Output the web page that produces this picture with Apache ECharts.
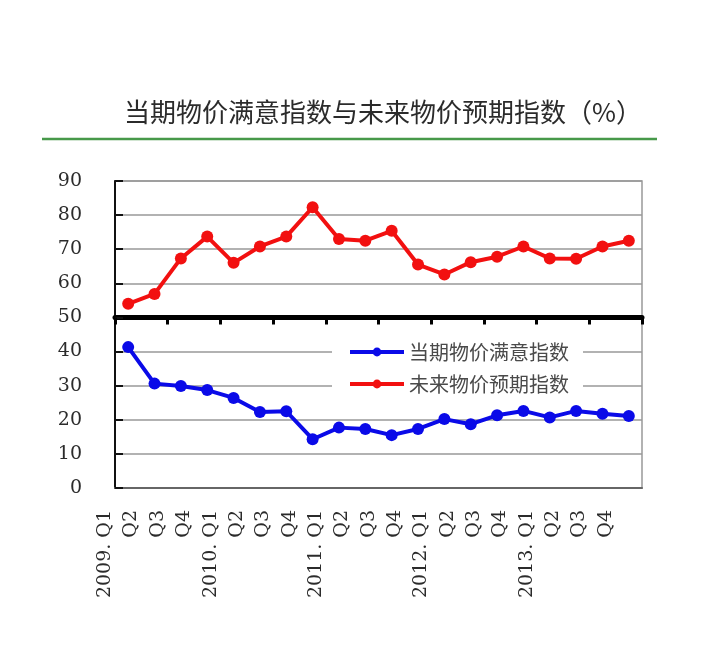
<!DOCTYPE html>
<html>
<head>
<meta charset="utf-8">
<script src="https://cdn.jsdelivr.net/npm/echarts@6/dist/echarts.min.js"></script>
<style>
  html, body { margin: 0; padding: 0; background: #fff; }
  #main { width: 718px; height: 672px; }
</style>
</head>
<body>
<div id="main"></div>
<script>
// 季度
var quarters = [
    '2009. Q1', 'Q2', 'Q3', 'Q4',
    '2010. Q1', 'Q2', 'Q3', 'Q4',
    '2011. Q1', 'Q2', 'Q3', 'Q4',
    '2012. Q1', 'Q2', 'Q3', 'Q4',
    '2013. Q1', 'Q2', 'Q3', 'Q4'
];
// 当期物价满意指数
var satisfyIndex = [41.3, 30.6, 29.9, 28.7, 26.4, 22.3, 22.5, 14.3, 17.7, 17.3,
    15.5, 17.3, 20.2, 18.7, 21.3, 22.6, 20.7, 22.6, 21.8, 21.1];
// 未来物价预期指数
var expectIndex = [54.0, 56.9, 67.3, 73.7, 66.0, 70.8, 73.7, 82.3, 73.0, 72.5,
    75.4, 65.5, 62.6, 66.2, 67.8, 70.8, 67.3, 67.2, 70.8, 72.5];
var seriesNames = ['当期物价满意指数', '未来物价预期指数'];

var chart = echarts.init(document.getElementById('main'));
var option = {
    backgroundColor: '#fff',
    animation: false,
    title: {
        text: '当期物价满意指数与未来物价预期指数（%）',
        left: 119,
        top: 94,
        textStyle: {
            fontFamily: 'Noto Sans CJK SC',
            fontSize: 26,
            fontWeight: 'normal',
            color: '#2b2b2b'
        }
    },
    graphic: [
        {
            type: 'line',
            shape: {x1: 42, y1: 139, x2: 657, y2: 139},
            style: {stroke: '#47994a', lineWidth: 2.5}
        },
        // 原图底部被裁掉
        {
            type: 'rect',
            z: 100,
            shape: {x: 0, y: 601, width: 718, height: 71},
            style: {fill: '#fff'}
        }
    ],
    legend: {
        orient: 'vertical',
        left: 332,
        top: 337,
        padding: [5, 14, 5, 16],
        backgroundColor: '#fff',
        itemWidth: 54,
        itemHeight: 11,
        itemGap: 12,
        lineStyle: {width: 4},
        data: seriesNames,
        textStyle: {
            fontFamily: 'Noto Sans CJK SC',
            fontSize: 20,
            color: '#4a4a4a'
        }
    },
    grid: {
        left: 115,
        right: 76,
        top: 181,
        bottom: 184,
        show: true,
        borderColor: '#999',
        borderWidth: 1.5
    },
    xAxis: [
        {
            type: 'category',
            data: quarters,
            axisLine: {onZero: false, lineStyle: {color: '#666', width: 2}},
            axisTick: {show: false},
            axisLabel: {
                interval: 0,
                rotate: 90,
                margin: 22,
                // 原图标签整体偏左，用一行空白把文字往左推
                formatter: function (value) {
                    return '{t|' + value + '}\n{s| }';
                },
                rich: {
                    t: {fontFamily: 'DejaVu Serif', fontSize: 19, color: '#2b2b2b', lineHeight: 20},
                    s: {fontSize: 10, lineHeight: 46}
                }
            }
        },
        {
            // 50 处的黑色分隔线
            type: 'category',
            data: quarters,
            axisLine: {
                onZero: true,
                onZeroAxisIndex: 1,
                lineStyle: {color: '#000', width: 5, cap: 'round'}
            },
            axisTick: {
                show: true,
                inside: true,
                interval: 1,
                length: 7,
                lineStyle: {color: '#000', width: 3}
            },
            axisLabel: {show: false},
            splitLine: {show: false}
        }
    ],
    yAxis: [
        {
            type: 'value',
            min: 0,
            max: 90,
            interval: 10,
            axisLine: {show: true, lineStyle: {color: '#111', width: 2}},
            axisTick: {show: true, inside: true, length: 8, lineStyle: {color: '#111', width: 2}},
            axisLabel: {
                margin: 33,
                fontFamily: 'DejaVu Serif',
                fontSize: 19,
                color: '#2b2b2b'
            },
            splitLine: {lineStyle: {color: '#999', width: 1.5}}
        },
        {
            type: 'value',
            min: -50,
            max: 40,
            show: false
        }
    ],
    series: [
        {
            name: seriesNames[0],
            type: 'line',
            data: satisfyIndex,
            symbol: 'circle',
            symbolSize: 12,
            color: '#0a0ae8',
            lineStyle: {width: 4}
        },
        {
            name: seriesNames[1],
            type: 'line',
            data: expectIndex,
            symbol: 'circle',
            symbolSize: 12,
            color: '#f21010',
            lineStyle: {width: 4}
        }
    ]
};
chart.setOption(option);
</script>
</body>
</html>
